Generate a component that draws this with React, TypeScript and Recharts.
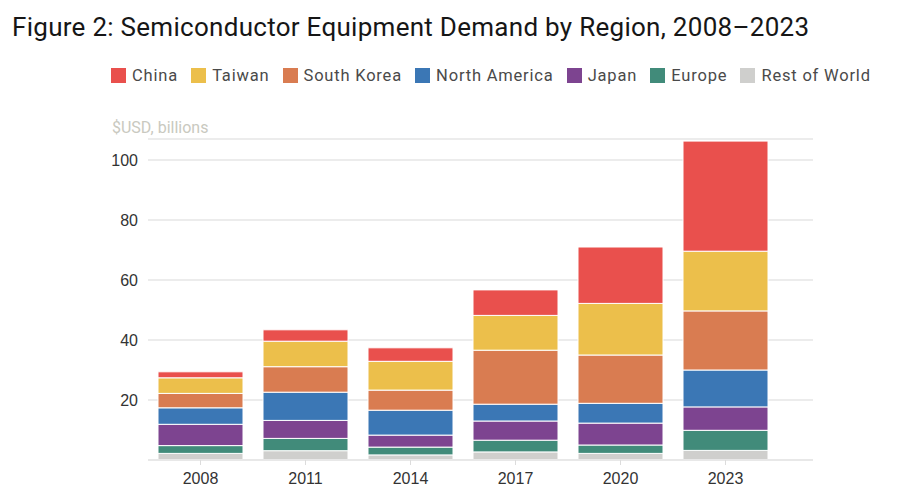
import React from 'react';
import { BarChart, Bar, XAxis, YAxis, CartesianGrid } from 'recharts';

const years = ['2008', '2011', '2014', '2017', '2020', '2023'];
const china = [2.0, 3.8, 4.5, 8.5, 18.8, 36.7];
const taiwan = [5.2, 8.5, 9.6, 11.6, 17.2, 19.9];
const southKorea = [4.8, 8.5, 6.7, 18.0, 16.1, 19.7];
const northAmerica = [5.5, 9.4, 8.3, 5.6, 6.6, 12.3];
const japan = [7.1, 6.0, 4.0, 6.4, 7.3, 7.8];
const europe = [2.6, 4.1, 2.6, 3.9, 2.8, 6.7];
const restOfWorld = [2.2, 3.1, 1.7, 2.7, 2.2, 3.2];
const yTicks = [20, 40, 60, 80, 100];

// legend order (top of stack first)
const series = [
  { key: 'china', name: 'China', color: '#e9504d', values: china },
  { key: 'taiwan', name: 'Taiwan', color: '#ecbf4b', values: taiwan },
  { key: 'southKorea', name: 'South Korea', color: '#d97c51', values: southKorea },
  { key: 'northAmerica', name: 'North America', color: '#3b77b5', values: northAmerica },
  { key: 'japan', name: 'Japan', color: '#7d4490', values: japan },
  { key: 'europe', name: 'Europe', color: '#418b7a', values: europe },
  { key: 'restOfWorld', name: 'Rest of World', color: '#cfcfcd', values: restOfWorld },
];

const data = years.map((year, i) => {
  const row: Record<string, number | string> = { year };
  series.forEach((s) => { row[s.key] = s.values[i]; });
  return row;
});

const font = 'Roboto, "Liberation Sans", sans-serif';

const App: React.FC = () => {
  // stack from the bottom: rest of world first
  const stackOrder = [...series].reverse();

  return (
    <div style={{ position: 'absolute', left: 0, top: 0, width: 900, height: 494, background: '#fff' }}>
      <div style={{ position: 'absolute', left: 12, top: 12, fontFamily: font, fontWeight: 400, fontSize: 26, letterSpacing: 0.28, color: '#161616', whiteSpace: 'nowrap' }}>
        Figure 2: Semiconductor Equipment Demand by Region, 2008–2023
      </div>
      <div style={{ position: 'absolute', left: 111, top: 66, display: 'flex', alignItems: 'center', fontFamily: font, fontSize: 16.5, letterSpacing: 0.8, color: '#4a4a4a', whiteSpace: 'nowrap' }}>
        {series.map((s) => (
          <div key={s.key} style={{ display: 'flex', alignItems: 'center', marginRight: 13.2 }}>
            <span style={{ display: 'inline-block', width: 15, height: 15, background: s.color, marginRight: 6 }} />
            <span>{s.name}</span>
          </div>
        ))}
      </div>
      <div style={{ position: 'absolute', left: 112, top: 118, fontFamily: font, fontSize: 16, color: '#c9c9c0' }}>
        $USD, billions
      </div>
      <BarChart
        width={900}
        height={494}
        data={data}
        margin={{ top: 139, right: 87, left: 0, bottom: 4 }}
        barSize={85}
      >
        <CartesianGrid vertical={false} stroke="#ececec" strokeWidth={2} />
        <XAxis
          dataKey="year"
          height={30}
          padding={{ left: 0, right: 35 }}
          tickSize={5}
          tickMargin={8}
          axisLine={{ stroke: '#e8e8e8', strokeWidth: 2 }}
          tickLine={{ stroke: '#dcdcdc' }}
          tick={{ fill: '#333', fontSize: 16, fontFamily: '"Liberation Sans", Arial, sans-serif' }}
        />
        <YAxis
          width={148}
          domain={[0, 107]}
          ticks={yTicks}
          axisLine={false}
          tickLine={false}
          tickSize={6}
          tickMargin={4}
          tick={{ fill: '#333', fontSize: 16, fontFamily: '"Liberation Sans", Arial, sans-serif' }}
        />
        {stackOrder.map((s) => (
          <Bar
            key={s.key}
            dataKey={s.key}
            name={s.name}
            stackId="a"
            fill={s.color}
            stroke="#fff"
            strokeWidth={1}
            isAnimationActive={false}
          />
        ))}
      </BarChart>
    </div>
  );
};

export default App;
